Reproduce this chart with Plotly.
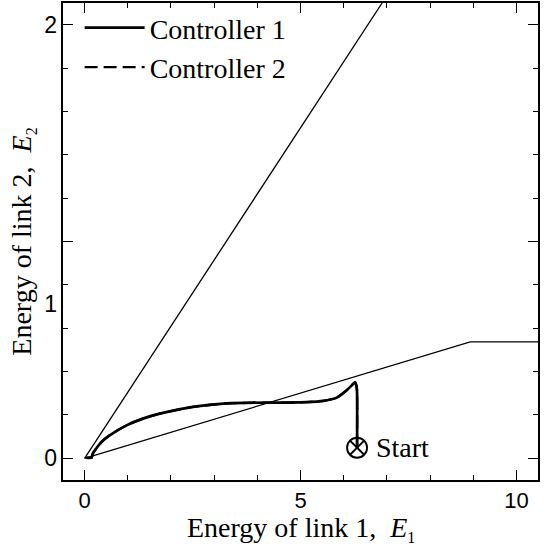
import plotly.graph_objects as go

# ---- data ----
c1_e1 = [6.31, 6.31, 6.30, 6.26, 6.18, 6.07, 5.84, 5.53, 5.14, 4.52, 4.21, 3.29, 2.51,
         1.74, 1.35, 0.97, 0.58, 0.39, 0.27, 0.19, 0.16, 0.04]
c1_e2 = [0.049, 0.30, 0.33, 0.351, 0.335, 0.314, 0.280, 0.265, 0.259, 0.257, 0.257, 0.253,
         0.237, 0.206, 0.183, 0.152, 0.106, 0.075, 0.045, 0.022, 0.003, 0.003]
c2_e1 = list(c1_e1)
c2_e2 = list(c1_e2)

upper_e1 = [0.0, 6.89]
upper_e2 = [0.0, 2.1]
lower_e1 = [0.0, 8.93, 10.5]
lower_e2 = [0.0, 0.537, 0.537]

start_e1 = [6.31]
start_e2 = [0.049]

x_range = [-0.5, 10.5]
y_range = [-0.1, 2.1]
y_label_vals = [0, 0.71, 2]
y_label_text = ["0", "1", "2"]

SERIF = "Liberation Serif"
SANS = "Liberation Sans"

fig = go.Figure()
fig.add_trace(go.Scatter(x=upper_e1, y=upper_e2, mode="lines",
                         line=dict(color="black", width=1.3), showlegend=False, hoverinfo="skip"))
fig.add_trace(go.Scatter(x=lower_e1, y=lower_e2, mode="lines",
                         line=dict(color="black", width=1.3), showlegend=False, hoverinfo="skip"))
fig.add_trace(go.Scatter(x=c1_e1, y=c1_e2, mode="lines", name="Controller 1",
                         line=dict(color="black", width=2.7, shape="spline", smoothing=0.6)))
fig.add_trace(go.Scatter(x=c2_e1, y=c2_e2, mode="lines", name="Controller 2", yaxis="y2",
                         line=dict(color="black", width=2.4, dash="13px,6px",
                                   shape="spline", smoothing=0.6)))
fig.add_trace(go.Scatter(x=start_e1, y=start_e2, mode="markers",
                         marker=dict(symbol="circle-x-open", size=20, color="black",
                                     line=dict(width=1.9, color="black")),
                         showlegend=False, hoverinfo="skip"))

fig.add_annotation(x=start_e1[0], y=start_e2[0], xref="x", yref="y", text="Start",
                   showarrow=False, xanchor="left", yanchor="middle", xshift=17,
                   font=dict(family=SERIF, size=28, color="black"))
fig.add_annotation(x=0.5, y=-0.102, xref="paper", yref="paper",
                   text="Energy of link 1,  <i>E</i><sub><span style='font-size:16px'>1</span></sub>",
                   showarrow=False, xanchor="center", yanchor="middle",
                   font=dict(family=SERIF, size=28, color="black"))

fig.update_layout(
    width=548, height=553,
    font=dict(family=SERIF, color="black"),
    margin=dict(l=63, r=10, t=3, b=73, autoexpand=False),
    paper_bgcolor="white", plot_bgcolor="white",
    showlegend=True,
    legend=dict(x=0.035, y=1.0, xanchor="left", yanchor="top",
                bgcolor="rgba(0,0,0,0)", font=dict(family=SERIF, size=28, color="black"),
                itemwidth=60, tracegroupgap=0),
    xaxis=dict(range=x_range, tickmode="linear", tick0=0, dtick=5, automargin=False,
               ticks="inside", ticklen=10, tickwidth=1.2, tickcolor="black",
               minor=dict(tickmode="linear", tick0=0, dtick=1, ticks="inside", ticklen=5,
                          tickwidth=1.2, tickcolor="black"),
               showline=True, linewidth=1.5, linecolor="black", mirror="ticks",
               showgrid=False, zeroline=False,
               tickfont=dict(family=SANS, size=22, color="black")),
    yaxis=dict(range=y_range, tickmode="linear", tick0=0, dtick=1, automargin=False,
               ticks="inside", ticklen=10, tickwidth=1.2, tickcolor="black",
               minor=dict(tickmode="linear", tick0=0, dtick=0.2, ticks="inside", ticklen=5,
                          tickwidth=1.2, tickcolor="black"),
               showticklabels=False,
               showline=True, linewidth=1.5, linecolor="black", mirror="ticks",
               showgrid=False, zeroline=False),
    yaxis2=dict(range=y_range, overlaying="y", anchor="x", side="left", automargin=False,
                tickmode="array", tickvals=y_label_vals, ticktext=y_label_text,
                ticks="", ticklabelstandoff=5, showline=False, showgrid=False, zeroline=False,
                tickfont=dict(family=SANS, size=23, color="black"),
                title=dict(text="Energy of link 2,  <i>E</i><sub><span style='font-size:16px'>2</span></sub>",
                           font=dict(family=SERIF, size=28, color="black"), standoff=4)),
)

fig.write_html("out.html", config={"displayModeBar": False},
               post_script="document.body.style.margin='0px';")
